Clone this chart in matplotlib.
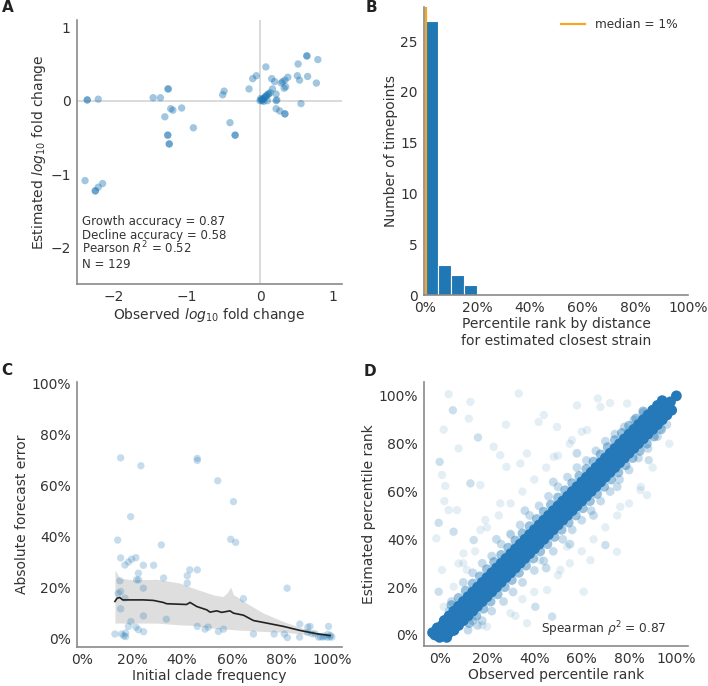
import matplotlib
matplotlib.use('Agg')
import matplotlib.pyplot as plt
from matplotlib.ticker import PercentFormatter

plt.rcParams['font.family'] = 'DejaVu Sans'
plt.rcParams['mathtext.fontset'] = 'dejavusans'

TEXT = '#333333'
SPINE = '#8a8a8a'
BLUE = '#1f77b4'

# ---- Panel A: observed vs estimated log10 fold change ----
obs_a = [-2.36, -2.36, -2.21, -2.39, -2.25, -2.25, -2.21, -2.15,
         -1.46, -1.36, -1.26, -1.25, -1.22, -1.19, -1.30, -1.07, -1.26, -1.26, -1.24, -1.24, -0.91,
         -0.51, -0.49, -0.41, -0.34, -0.34, -0.15, -0.10, -0.05, 0.08,
         0.64, 0.64, 0.79, 0.52, 0.16, 0.51, 0.65, 0.54, 0.77, 0.38, 0.34, 0.31, 0.29, 0.35, 0.33,
         0.17, 0.22, 0.23, 0.56, 0.22, 0.27, 0.34, 0.34, 0.20, 0.22,
         0.11, 0.09, 0.08, 0.06, 0.04, 0.03, 0.05, 0.10, 0.00, 0.02, 0.01, 0.03, 0.07, 0.14, 0.12]
est_a = [0.01, 0.01, 0.02, -1.09, -1.23, -1.23, -1.18, -1.13,
         0.04, 0.04, 0.16, 0.16, -0.11, -0.13, -0.22, -0.10, -0.47, -0.47, -0.59, -0.59, -0.37,
         0.08, 0.13, -0.30, -0.47, -0.47, 0.16, 0.30, 0.34, 0.46,
         0.61, 0.61, 0.56, 0.50, 0.30, 0.34, 0.33, 0.28, 0.24, 0.32, 0.28, 0.26, 0.24, 0.19, 0.17,
         0.16, 0.09, 0.01, -0.04, -0.11, -0.14, -0.18, -0.18, 0.26, 0.00,
         0.09, 0.07, 0.06, 0.04, 0.02, 0.00, -0.01, 0.00, 0.00, 0.01, 0.03, 0.02, 0.05, 0.11, 0.09]
stats_a = ['Growth accuracy = 0.87', 'Decline accuracy = 0.58',
           'Pearson $R^2$ = 0.52', 'N = 129']

# ---- Panel B: histogram of percentile ranks ----
bin_left = [0.0, 5.0, 10.0, 15.0]
bin_count = [27, 3, 2, 1]
median_rank = 0.6

# ---- Panel C: absolute forecast error vs initial frequency ----
freq_c = [15.4, 23.5, 46.1, 46.1, 19.4, 14.2, 31.7, 15.4, 17.1, 18.5, 19.8, 21.5, 24.5, 28.6,
          22.5, 21.8, 22.6, 24.5, 15.1, 14.4, 15.4, 17.1, 15.4, 32.6, 42.1, 43.1, 46.1, 42.1,
          24.5, 33.7, 19.5, 18.5, 21.5, 13.1, 15.8, 16.7, 17.4, 17.4, 22.5, 24.6, 46.1, 49.2, 50.5,
          54.3, 60.6, 59.5, 61.5, 64.6, 82.1, 54.6, 56.6, 68.6, 76.9, 81.0, 82.2, 87.2, 87.1,
          90.4, 91.3, 90.3, 92.0, 93.3, 98.7, 94.7, 96.4, 98.0, 99.1, 100.0, 99.5, 98.5, 97.0, 95.5]
err_c = [70.8, 67.7, 70.6, 69.8, 47.7, 38.5, 36.6, 31.5, 28.7, 29.9, 31.0, 31.6, 28.6, 28.6,
         25.5, 22.9, 22.9, 19.6, 22.5, 17.6, 18.3, 15.7, 11.5, 23.6, 24.5, 26.8, 26.8, 21.6,
         8.7, 7.4, 6.5, 4.6, 4.3, 1.6, 1.6, 0.9, 0.6, 2.0, 3.3, 2.5, 4.6, 3.5, 4.3,
         61.8, 53.6, 38.8, 37.6, 15.5, 19.6, 2.6, 3.5, 1.6, 1.6, 1.6, 0.2, 5.5, 0.4,
         4.3, 4.6, 2.2, 1.7, 1.7, 4.6, 0.4, 0.4, 0.4, 0.4, 0.4, 1.0, 1.5, 0.8, 0.5]
mean_x = [13.1, 14.0, 15.1, 16.2, 18.4, 24.5, 28.5, 32.5, 33.8, 41.8, 43.2, 45.9, 49.9, 51.2,
          53.9, 55.9, 59.2, 60.6, 64.6, 68.6, 73.9, 80.6, 87.3, 94.0, 99.3]
mean_y = [14.4, 15.7, 15.9, 15.0, 15.0, 15.0, 14.8, 14.0, 13.5, 13.2, 14.0, 12.4, 11.1, 10.2,
          10.7, 10.1, 10.7, 9.8, 9.0, 6.9, 5.9, 4.6, 3.0, 1.7, 1.0]
band_x = [13.1, 15.1, 20.5, 29.8, 39.2, 44.5, 52.5, 56.3, 57.9, 59.5, 60.6, 61.9, 65.9, 72.6,
          80.6, 87.3, 95.3, 99.3]
band_hi = [26.8, 23.5, 22.9, 23.1, 21.6, 19.6, 17.0, 16.3, 17.6, 20.0, 17.0, 16.3, 13.7, 9.8,
           6.5, 4.2, 2.0, 1.2]
band_lo = [5.9, 5.9, 5.9, 5.9, 5.2, 5.0, 3.9, 3.6, 3.5, 3.4, 3.3, 3.2, 3.0, 2.6, 2.3, 1.7, 1.0, 0.9]

# ---- Panel D: observed vs estimated percentile rank ----
# dense diagonal core
core_obs = [0, 2.5, 5, 7.5, 10, 12.5, 15, 17.5, 20, 22.5, 25, 27.5, 30, 32.5, 35, 37.5, 40, 42.5,
            45, 47.5, 50, 52.5, 55, 57.5, 60, 62.5, 65, 67.5, 70, 72.5, 75, 77.5, 80, 82.5, 85,
            87.5, 90, 92.5, 95, 97.5, 100,
            2, 4, 6, 8, 10, 12, 14, 16, 18, 20, 22, 24, 26, 28, 30, 32, 34, 36, 38, 40, 42, 44, 46,
            48, 50, 52, 54, 56, 58, 60, 62, 64, 66, 68, 70, 72, 74, 76, 78, 80, 82, 84, 86, 88, 90,
            92, 94,
            6, 8, 10, 12, 14, 16, 18, 20, 22, 24, 26, 28, 30, 32, 34, 36, 38, 40, 42, 44, 46, 48,
            50, 52, 54, 56, 58, 60, 62, 64, 66, 68, 70, 72, 74, 76, 78, 80, 82, 84, 86, 88, 90, 92,
            94, 96, 98,
            -2, 0, 1, 4, -1, 6, 2, -3, 3]
core_est = [0, 2.5, 5, 7.5, 10, 12.5, 15, 17.5, 20, 22.5, 25, 27.5, 30, 32.5, 35, 37.5, 40, 42.5,
            45, 47.5, 50, 52.5, 55, 57.5, 60, 62.5, 65, 67.5, 70, 72.5, 75, 77.5, 80, 82.5, 85,
            87.5, 90, 92.5, 95, 97.5, 100,
            6, 8, 10, 12, 14, 16, 18, 20, 22, 24, 26, 28, 30, 32, 34, 36, 38, 40, 42, 44, 46, 48,
            50, 52, 54, 56, 58, 60, 62, 64, 66, 68, 70, 72, 74, 76, 78, 80, 82, 84, 86, 88, 90, 92,
            94, 96, 98,
            2, 4, 6, 8, 10, 12, 14, 16, 18, 20, 22, 24, 26, 28, 30, 32, 34, 36, 38, 40, 42, 44, 46,
            48, 50, 52, 54, 56, 58, 60, 62, 64, 66, 68, 70, 72, 74, 76, 78, 80, 82, 84, 86, 88, 90,
            92, 94,
            0, -1, 4, 1, 3, 2, 6, 1, -1]
# fuzzy edge of the core
edge_obs = [5, 8, 11, 14, 17, 20, 23, 26, 29, 32, 35, 38, 41, 44, 47, 50, 53, 56, 59, 62, 65, 68,
            71, 74, 77, 80, 83, 86,
            12.5, 15.5, 18.5, 21.5, 24.5, 27.5, 30.5, 33.5, 36.5, 39.5, 42.5, 45.5, 48.5, 51.5,
            54.5, 57.5, 60.5, 63.5, 66.5, 69.5, 72.5, 75.5, 78.5, 81.5, 84.5, 87.5, 90.5, 93.5]
edge_est = [12.5, 15.5, 18.5, 21.5, 24.5, 27.5, 30.5, 33.5, 36.5, 39.5, 42.5, 45.5, 48.5, 51.5,
            54.5, 57.5, 60.5, 63.5, 66.5, 69.5, 72.5, 75.5, 78.5, 81.5, 84.5, 87.5, 90.5, 93.5,
            5, 8, 11, 14, 17, 20, 23, 26, 29, 32, 35, 38, 41, 44, 47, 50, 53, 56, 59, 62, 65, 68,
            71, 74, 77, 80, 83, 86]
# medium-density halo around the diagonal
halo_obs = [5, 10, 14, 18, 22, 26, 30, 34, 38, 42, 46, 50, 54, 58, 62, 66, 70, 74, 78, 82, 86,
            12, 18, 22, 27, 31, 35, 40, 44, 48, 52, 56, 60, 64, 68, 72, 76, 80, 84, 88, 92, 96,
            24, 36, 48, 58, 45, 55, 65, 75, 6, 16, 4, 14]
halo_est = [14, 22, 26, 30, 33, 38, 42, 46, 50, 54, 58, 62, 66, 70, 73, 77, 81, 84, 87, 90, 93,
            2, 6, 10, 14, 18, 22, 27, 31, 35, 40, 44, 48, 52, 56, 60, 65, 69, 74, 78, 83, 88,
            40, 52, 64, 76, 28, 38, 50, 62, 2, 4, 10, 6]
# sparse off-diagonal points
out_obs = [5.6, 5.6, 1.7, 3.8, 13.0, 16.2, 16.2, 12.3, 0.0, 0.0, 1.0, 2.4, -0.4, -0.4, -1.4, 5.9,
           5.9, 7.3, 3.8, 13.0, 13.0, 17.2, 22.8, 25.6, 28.2, 34.1, 33.4, 41.8, 36.9, 49.6, 48.2,
           55.9, 66.8, 67.9, 62.3, 79.2, 87.6, 84.8, 88.3, 88.3, 76.3, 70.0, 70.0, 74.9, 63.7,
           60.8, 40.4, 40.4, 45.4, 47.5, 47.5, 36.9, 20.0, 29.9, 53.8, 42.5, 51.0, 29.9, 25.6,
           19.3, 10.1, 8.0, 1.0, -0.4, -0.4, 1.7, 5.9, 11.5, 17.2, 14.4, 14.4,
           20, 25, 30, 35, 40, 45, 50, 55, 60, 15, 10, 50, 55, 60, 65, 70, 75, 80, 85, 90, 35, 40,
           2, 8, 28, 44, 58, 72, 93, 97, 18, 32]
out_est = [94.0, 94.0, 85.9, 100.7, 97.5, 82.6, 82.6, 90.5, 72.4, 72.4, 66.9, 62.3, 46.9, 46.9,
           40.4, 43.2, 43.2, 52.2, 52.2, 63.4, 63.4, 62.7, 78.7, 75.2, 70.3, 71.7, 101.0, 89.1,
           75.9, 87.0, 74.5, 81.5, 98.9, 95.4, 85.7, 96.8, 58.5, 60.6, 73.1, 73.1, 53.6, 37.6,
           37.6, 34.8, 31.3, 18.1, 11.8, 11.8, 18.8, 7.7, 7.7, 4.9, 3.5, 9.1, 36.9, 31.3, 27.2,
           42.5, 55.0, 48.1, 34.1, 29.9, 27.2, 18.1, 18.1, 11.8, 20.2, 27.2, 43.9, 39.7, 39.7,
           45, 50, 55, 60, 65, 70, 75, 80, 85, 35, 30, 25, 30, 35, 40, 45, 50, 55, 62, 70, 15, 18,
           56, 78, 88, 92, 96, 97, 86, 80, 4, 8]

fig = plt.figure(figsize=(7.08, 6.86), dpi=100)


def panel(left, top, right, bottom):
    return fig.add_axes([left / 708, 1 - bottom / 686, (right - left) / 708, (bottom - top) / 686])


def style(ax):
    for s in ['top', 'right']:
        ax.spines[s].set_visible(False)
    for s in ['left', 'bottom']:
        ax.spines[s].set_color(SPINE)
        ax.spines[s].set_linewidth(1.2)
    ax.tick_params(length=0, pad=4.5, labelsize=10, colors=TEXT)


LABEL = dict(fontsize=10, color=TEXT, labelpad=1.5)

# Panel A
ax = panel(77, 20, 342, 284)
style(ax)
ax.axhline(0, color='#d4d4d4', lw=1.2, zorder=0)
ax.axvline(0, color='#d4d4d4', lw=1.2, zorder=0)
ax.scatter(obs_a, est_a, s=28, color=BLUE, alpha=0.42, edgecolors='none')
ax.set_xlim(-2.5, 1.12)
ax.set_ylim(-2.5, 1.1)
ax.set_xticks([-2, -1, 0, 1])
ax.set_yticks([-2, -1, 0, 1])
ax.set_xlabel('Observed $log_{10}$ fold change', **LABEL)
ax.set_ylabel('Estimated $log_{10}$ fold change', **LABEL)
for i, line in enumerate(stats_a):
    ax.text(0.02, 0.224 - i * 0.054, line, transform=ax.transAxes, fontsize=8.5,
            color=TEXT, va='baseline', ha='left')

# Panel B
ax = panel(424, 7, 688, 295)
style(ax)
ax.bar(bin_left, bin_count, width=5.0, align='edge', color=BLUE, edgecolor='white', linewidth=0.8)
ax.axvline(median_rank, color='#f5a623', lw=1.6, label='median = %.0f%%' % median_rank)
ax.set_xlim(-0.3, 100)
ax.set_ylim(0, 28.35)
ax.set_xticks([0, 20, 40, 60, 80, 100])
ax.set_yticks([0, 5, 10, 15, 20, 25])
ax.xaxis.set_major_formatter(PercentFormatter(100, decimals=0))
ax.set_xlabel('Percentile rank by distance\nfor estimated closest strain', **LABEL)
ax.set_ylabel('Number of timepoints', **LABEL)
leg = ax.legend(loc='upper right', frameon=False, fontsize=8.7)
for t in leg.get_texts():
    t.set_color(TEXT)

# Panel C
ax = panel(77, 382, 342, 647)
style(ax)
ax.fill_between(band_x, band_lo, band_hi, color='#dedede', lw=0, zorder=1)
ax.scatter(freq_c, err_c, s=28, color=BLUE, alpha=0.25, edgecolors='none', zorder=2)
ax.plot(mean_x, mean_y, color='#222222', lw=1.2, zorder=3)
ax.set_xlim(-2.1, 104.1)
ax.set_ylim(-3.5, 100.6)
ax.set_xticks([0, 20, 40, 60, 80, 100])
ax.set_yticks([0, 20, 40, 60, 80, 100])
ax.xaxis.set_major_formatter(PercentFormatter(100, decimals=0))
ax.yaxis.set_major_formatter(PercentFormatter(100, decimals=0))
ax.set_xlabel('Initial clade frequency', **LABEL)
ax.set_ylabel('Absolute forecast error', **LABEL)

# Panel D
ax = panel(424, 382, 688, 646)
style(ax)
ax.scatter(out_obs, out_est, s=36, color=BLUE, alpha=0.12, edgecolors='none')
ax.scatter(halo_obs, halo_est, s=40, color=BLUE, alpha=0.25, edgecolors='none')
ax.scatter(edge_obs, edge_est, s=50, color=BLUE, alpha=0.45, edgecolors='none')
ax.scatter(core_obs, core_est, s=60, color='#2679b8', alpha=1.0, edgecolors='none')
ax.set_xlim(-6.6, 104.9)
ax.set_ylim(-4.6, 105.8)
ax.set_xticks([0, 20, 40, 60, 80, 100])
ax.set_yticks([0, 20, 40, 60, 80, 100])
ax.xaxis.set_major_formatter(PercentFormatter(100, decimals=0))
ax.yaxis.set_major_formatter(PercentFormatter(100, decimals=0))
ax.set_xlabel('Observed percentile rank', **LABEL)
ax.set_ylabel('Estimated percentile rank', **LABEL)
ax.text(0.92, 0.025, r'Spearman $\rho^2$ = 0.87', transform=ax.transAxes, fontsize=8.7,
        color=TEXT, ha='right', va='bottom')

# panel letters
for letter, x, y in [('A', 2, 0), ('B', 366, 0), ('C', 1, 363), ('D', 364, 364)]:
    fig.text(x / 708, 1 - y / 686, letter, fontsize=11, fontweight='bold', color='#222222',
             ha='left', va='top')

fig.savefig('out.png', dpi=100)
